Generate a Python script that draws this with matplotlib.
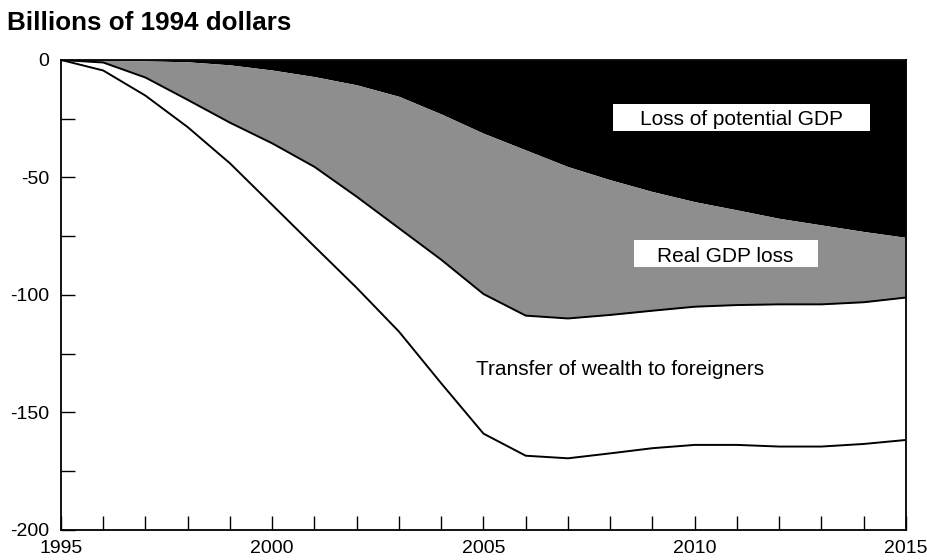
import matplotlib
matplotlib.use("Agg")
import matplotlib.pyplot as plt
from matplotlib.patches import Rectangle

plt.rcParams['font.family'] = ['Liberation Sans', 'DejaVu Sans']

# Werte (Milliarden Dollar von 1994)
years = list(range(1995, 2016))
potential_loss = [0, -0.2, -0.4, -0.8, -2.1, -4.3, -7.1, -10.6, -15.5, -23.0, -31.2,
                  -38.3, -45.4, -51.0, -56.0, -60.3, -63.8, -67.4, -70.2, -73.0, -75.5]
real_gdp_loss = [0, -1.1, -7.5, -17.0, -26.7, -35.5, -45.5, -58.2, -71.6, -85.0, -99.6,
                 -108.8, -110.0, -108.5, -106.7, -105.0, -104.3, -104.0, -104.0, -103.1, -101.1]
wealth_transfer = [0, -4.5, -15.2, -28.6, -44.0, -61.7, -79.4, -97.0, -115.6, -137.6, -159.0,
                   -168.4, -169.5, -167.4, -165.2, -163.8, -163.8, -164.5, -164.5, -163.4, -161.7]

fig = plt.figure(figsize=(9.27, 5.6), dpi=100)
ax = fig.add_axes([0.0658, 0.0536, 0.9115, 0.8394])

# Flächen
ax.fill_between(years, 0, potential_loss, color='black', linewidth=0)
ax.fill_between(years, potential_loss, real_gdp_loss, color='#8e8e8e', linewidth=0)
ax.plot(years, real_gdp_loss, color='black', linewidth=1.4)
ax.plot(years, wealth_transfer, color='black', linewidth=1.4)

# weiße Kästen hinter den Beschriftungen
ax.add_patch(Rectangle((2008.06, -30.1), 6.09, 11.4, facecolor='white', edgecolor='none', zorder=3))
ax.add_patch(Rectangle((2008.56, -88.0), 4.35, 11.4, facecolor='white', edgecolor='none', zorder=3))

ax.text(2011.1, -27.7, 'Loss of potential GDP', fontsize=15, ha='center', va='baseline', zorder=4)
ax.text(2010.72, -85.8, 'Real GDP loss', fontsize=15, ha='center', va='baseline', zorder=4)
ax.text(2008.24, -134.0, 'Transfer of wealth to foreigners', fontsize=15,
        ha='center', va='baseline', zorder=4)

fig.text(0.008, 1 - 30 / 560, 'Billions of 1994 dollars', fontsize=18.7, fontweight='bold',
         ha='left', va='baseline')

# Achsen
ax.set_xlim(1995, 2015)
ax.set_ylim(-200, 0)
ax.set_xticks(range(1995, 2016))
ax.set_xticklabels([str(y) if y % 5 == 0 else '' for y in years])
ax.set_yticks(range(-200, 1, 25))
ax.set_yticklabels([str(v) if v % 50 == 0 else '' for v in range(-200, 1, 25)])
ax.tick_params(direction='in', length=10, width=1, labelsize=14)
ax.tick_params(axis='x', pad=7.5)
ax.tick_params(axis='y', pad=8.5)
for s in ax.spines.values():
    s.set_linewidth(1.3)

fig.savefig('out.png', dpi=100)
